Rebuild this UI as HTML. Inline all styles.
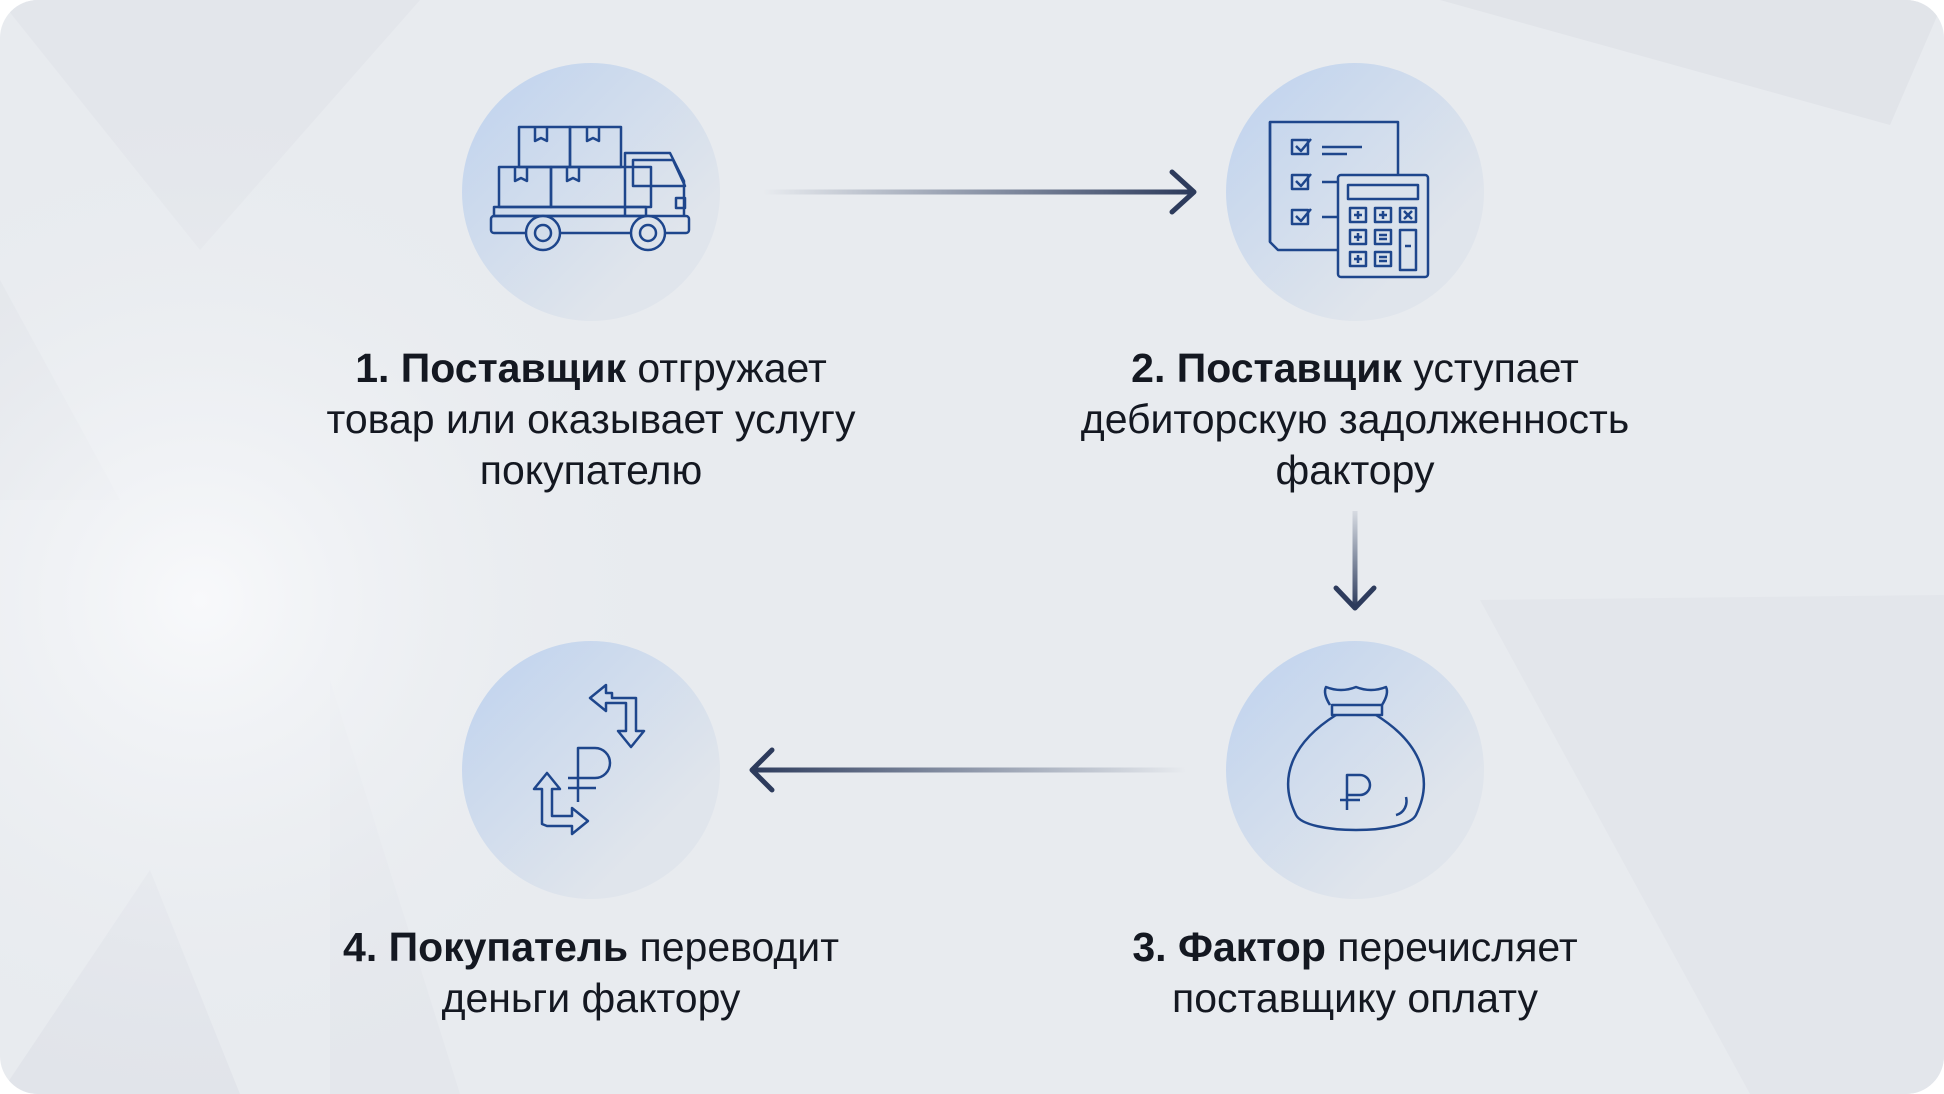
<!DOCTYPE html>
<html><head><meta charset="utf-8"><style>
html,body{margin:0;padding:0;width:1944px;height:1094px;overflow:hidden;background:#fff}
.wrap{position:absolute;left:0;top:0;width:1944px;height:1094px;border-radius:38px;overflow:hidden;background:#e8ebef}
.t{position:absolute;width:800px;text-align:center;font-family:"Liberation Sans",sans-serif;font-size:41px;line-height:51px;color:#141821}
.t b{font-weight:bold}
</style></head><body><div class="wrap">
<svg width="1944" height="1094" style="position:absolute;left:0;top:0">
<defs>
<radialGradient id="bg" cx="200" cy="600" r="500" gradientUnits="userSpaceOnUse"><stop offset="0" stop-color="#f8f9fb"/><stop offset="1" stop-color="#e8ebef" stop-opacity="0"/></radialGradient>
<linearGradient id="cg" x1="0" y1="0" x2="1" y2="1"><stop offset="0" stop-color="#bed2ee"/><stop offset="0.75" stop-color="#e0e5ec"/></linearGradient>
<linearGradient id="a1" gradientUnits="userSpaceOnUse" x1="763" y1="0" x2="1190" y2="0"><stop offset="0" stop-color="#3a4a6a" stop-opacity="0"/><stop offset="1" stop-color="#2d3b5c"/></linearGradient>
<linearGradient id="a2" gradientUnits="userSpaceOnUse" x1="1186" y1="0" x2="754" y2="0"><stop offset="0" stop-color="#3a4a6a" stop-opacity="0"/><stop offset="1" stop-color="#2d3b5c"/></linearGradient>
<linearGradient id="a3" gradientUnits="userSpaceOnUse" x1="0" y1="511" x2="0" y2="607"><stop offset="0" stop-color="#3a4a6a" stop-opacity="0.1"/><stop offset="1" stop-color="#2d3b5c"/></linearGradient>
</defs>
<polygon points="0,0 420,0 200,250" fill="#e3e6eb"/>
<polygon points="1440,0 1944,0 1890,125" fill="#e1e4e9"/>
<polygon points="0,280 120,500 0,500" fill="#e2e5ea"/>
<polygon points="1480,600 1944,595 1944,1094 1750,1094" fill="#e3e6eb"/>
<polygon points="0,1094 150,870 240,1094" fill="#e1e4ea"/>
<polygon points="330,680 460,1094 330,1094" fill="#e4e7ec"/>
<rect width="1944" height="1094" fill="url(#bg)"/>
<circle cx="591" cy="192" r="129" fill="url(#cg)"/>
<circle cx="1355" cy="192" r="129" fill="url(#cg)"/>
<circle cx="1355" cy="770" r="129" fill="url(#cg)"/>
<circle cx="591" cy="770" r="129" fill="url(#cg)"/>
<g fill="none" stroke-linecap="round" stroke-linejoin="round">
<rect x="763" y="189.5" width="430" height="5" fill="url(#a1)" stroke="none"/>
<path d="M1172 172L1194 192L1172 212" stroke="#2d3b5c" stroke-width="5"/>
<rect x="1352.5" y="511" width="5" height="96" fill="url(#a3)" stroke="none"/>
<path d="M1336 588L1355 608L1374 588" stroke="#2d3b5c" stroke-width="5"/>
<rect x="752" y="767.5" width="434" height="5" fill="url(#a2)" stroke="none"/>
<path d="M772 750L752 770L772 790" stroke="#2d3b5c" stroke-width="5"/>
</g>
<g fill="none" stroke="#1e468c" stroke-width="2.5" stroke-linejoin="round">
<rect x="519" y="127" width="51" height="40"/><rect x="570" y="127" width="51" height="40"/>
<rect x="499" y="167" width="52" height="40"/><rect x="551" y="167" width="100" height="40"/>
<path d="M535 127v14l6-3 6 3v-14M587 127v14l6-3 6 3v-14M515 167v14l6-3 6 3v-14M567 167v14l6-3 6 3v-14"/>
<rect x="494" y="207" width="152" height="9"/>
<rect x="491" y="216" width="198" height="17" rx="3"/>
<path d="M625 216V153h45l14 28v35"/><path d="M633 160h40l12 26h-52z"/><rect x="676" y="198" width="9" height="10"/>
<circle cx="543" cy="233" r="17" fill="#d3ddea"/><circle cx="543" cy="233" r="8"/>
<circle cx="648" cy="233" r="17" fill="#dce2ea"/><circle cx="648" cy="233" r="8"/>
<path d="M1270 122h128v128h-120l-8-8z"/><path d="M1270 122v120"/>
<rect x="1292" y="140" width="16" height="14"/><rect x="1292" y="175" width="16" height="14"/><rect x="1292" y="210" width="16" height="14"/>
<path d="M1296 146l5 5 10-12M1296 181l5 5 10-12M1296 216l5 5 10-12M1322 147h40M1322 154h25M1322 182h20M1322 217h20"/>
<rect x="1338" y="175" width="90" height="102" rx="3" fill="#dae2ec"/>
<rect x="1348" y="185" width="70" height="14"/>
<rect x="1350" y="208" width="16" height="14"/><rect x="1375" y="208" width="16" height="14"/><rect x="1400" y="208" width="16" height="14"/>
<rect x="1350" y="230" width="16" height="14"/><rect x="1375" y="230" width="16" height="14"/><rect x="1400" y="230" width="16" height="40"/>
<rect x="1350" y="252" width="16" height="14"/><rect x="1375" y="252" width="16" height="14"/>
<path d="M1358 211v8M1354 215h8M1383 211v8M1379 215h8M1404 211l8 8M1412 211l-8 8M1358 233v8M1354 237h8M1379 235h8M1379 239h8M1358 255v8M1354 259h8M1379 257h8M1379 261h8M1405 246h6"/>
<path d="M1330 705c-5-8-6-14-4-18 10 4 20 4 30 0 10 4 20 4 30 0 2 4 1 10-4 18"/>
<path d="M1332 705h50v10h-50z"/>
<path d="M1336 715c-40 25-60 60-40 100 10 20 110 20 120 0 20-40 0-75-40-100"/>
<path d="M1396 815c8-2 12-10 10-18"/>
<path d="M1347 775h13a10 10 0 0 1 0 20h-13v-20zm0 0v35M1340 800h20"/>
<path d="M578 748h17a15 15 0 0 1 0 30h-17zm0 30v24M568 788h28M568 778h10"/>
<path d="M612 693h-6v-8l-16 13 16 13v-8h20v28h-8l13 16 13-16h-8v-33h-24z"/>
<path d="M542 824v-35h-8l13-16 13 16h-8v27h20v-8l16 13-16 13v-8h-25z"/>
</g>
</svg>
<div class="t" style="left:191px;top:343px"><b>1. Поставщик</b> отгружает<br>товар или оказывает услугу<br>покупателю</div>
<div class="t" style="left:955px;top:343px"><b>2. Поставщик</b> уступает<br>дебиторскую задолженность<br>фактору</div>
<div class="t" style="left:955px;top:922px"><b>3. Фактор</b> перечисляет<br>поставщику оплату</div>
<div class="t" style="left:191px;top:922px"><b>4. Покупатель</b> переводит<br>деньги фактору</div>
</div></body></html>
